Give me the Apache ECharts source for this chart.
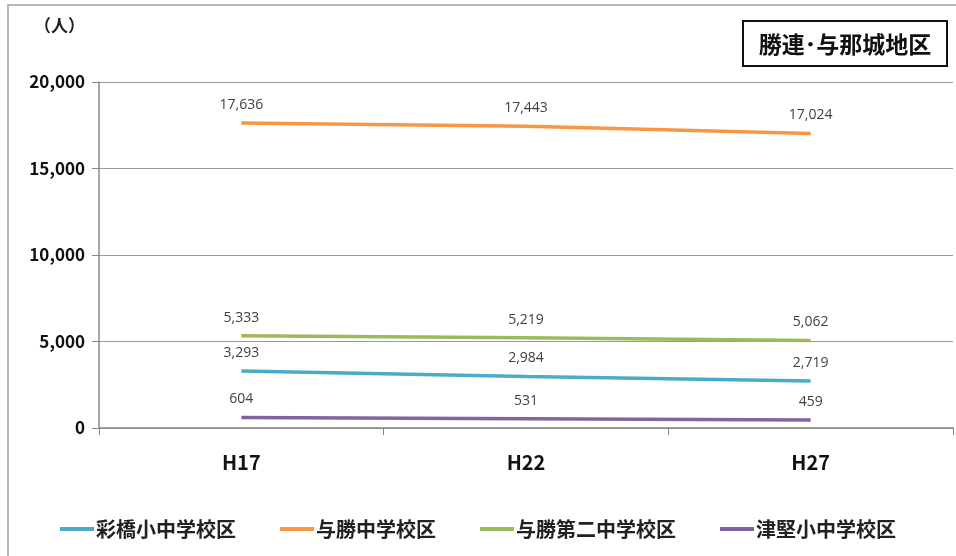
<!DOCTYPE html>
<html><head><meta charset="utf-8">
<script src="https://cdn.jsdelivr.net/npm/echarts@6/dist/echarts.min.js"></script>
<style>html,body{margin:0;padding:0;background:#fff}#c{width:956px;height:556px}</style>
</head><body><div id="c"></div>
<script>
const categories = ['H17', 'H22', 'H27'];
const seriesNames = ['彩橋小中学校区', '与勝中学校区', '与勝第二中学校区', '津堅小中学校区'];
const ayahashi = [3293, 2984, 2719];
const yokatsu = [17636, 17443, 17024];
const yokatsu2 = [5333, 5219, 5062];
const tsuken = [604, 531, 459];
const yTicks = [0, 5000, 10000, 15000, 20000];
const colors = ['#4BACC6', '#F79646', '#9BBB59', '#8064A2'];
const values = [ayahashi, yokatsu, yokatsu2, tsuken];
const FONT = '"Noto Sans CJK JP", "Noto Sans", sans-serif';

const chart = echarts.init(document.getElementById('c'));
chart.setOption({
  animation: false,
  backgroundColor: '#fff',
  grid: { left: 99, right: 3, top: 82, bottom: 128 },
  graphic: [
    { type: 'rect', shape: { x: 8, y: 5, width: 960, height: 560 }, style: { fill: 'none', stroke: '#a0a0a0', lineWidth: 1.5 }, z: 0 },
    { type: 'text', left: 34, top: 17, style: { text: '（人）', font: 'bold 17px ' + FONT, fill: '#222' } },
    { type: 'rect', shape: { x: 743, y: 21, width: 204, height: 45 }, style: { fill: '#fff', stroke: '#111', lineWidth: 2 } },
    { type: 'text', x: 845, y: 44, style: { text: '勝連･与那城地区', font: 'bold 23px ' + FONT, fill: '#111', textAlign: 'center', textVerticalAlign: 'middle' } }
  ],
  legend: {
    bottom: 12, left: 'center',
    itemWidth: 34, itemHeight: 4, itemGap: 44,
    icon: 'rect',
    data: seriesNames,
    textStyle: { fontFamily: FONT, fontWeight: 'bold', fontSize: 20, color: '#222', padding: [0, 0, 0, -3] }
  },
  xAxis: {
    type: 'category', data: categories, boundaryGap: true,
    axisLine: { lineStyle: { color: '#888', width: 1.5 } },
    axisTick: { show: true, length: 7, lineStyle: { color: '#888' } },
    axisLabel: { fontFamily: FONT, fontWeight: 'bold', fontSize: 20, color: '#111', margin: 24 }
  },
  yAxis: {
    type: 'value', min: yTicks[0], max: yTicks[yTicks.length - 1], interval: 5000,
    axisLine: { show: true, lineStyle: { color: '#888', width: 1.5 } },
    axisTick: { show: true, length: 7, lineStyle: { color: '#888' } },
    splitLine: { lineStyle: { color: '#999', width: 1 } },
    axisLabel: { fontFamily: FONT, fontWeight: 'bold', fontSize: 17, color: '#111', margin: 14,
      formatter: v => v.toLocaleString('en-US') }
  },
  series: seriesNames.map((n, i) => ({
    name: n, type: 'line', data: values[i],
    symbol: 'circle', symbolSize: 0.1, showSymbol: true,
    lineStyle: { color: colors[i], width: 3.5 },
    itemStyle: { color: colors[i] },
    label: { show: true, position: 'top', distance: 11, fontFamily: '"Open Sans", sans-serif', fontSize: 14, color: '#404040',
      formatter: p => p.value.toLocaleString('en-US') }
  }))
});
</script></body></html>
